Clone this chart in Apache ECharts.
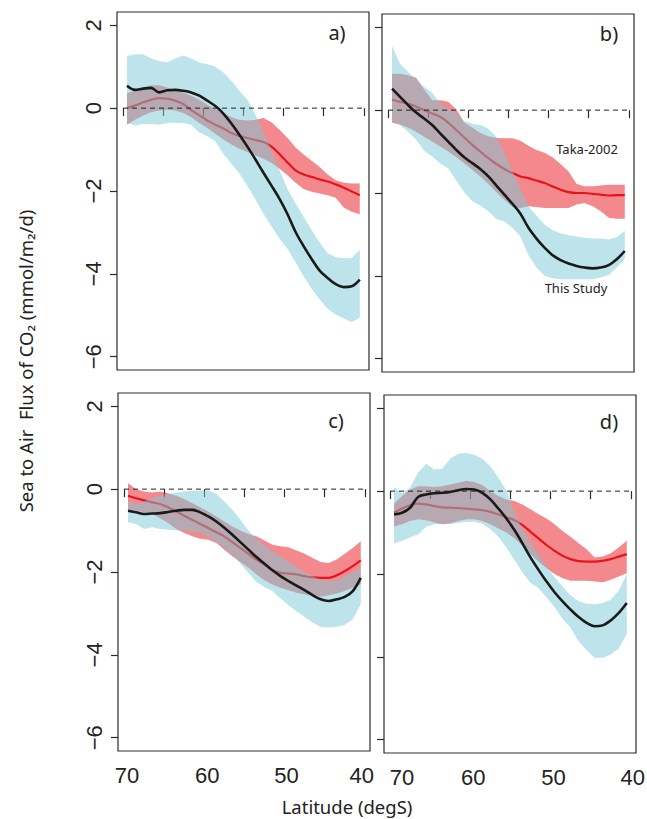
<!DOCTYPE html>
<html>
<head>
<meta charset="utf-8">
<script src="https://cdn.jsdelivr.net/npm/echarts@6.0.0/dist/echarts.min.js"></script>
<style>
html,body{margin:0;padding:0;background:#fff;}
#chart{width:647px;height:819px;}
</style>
</head>
<body>
<div id="chart"></div>
<script>
// ---------- DATA ----------
const lat = [69.5,68.5,67.5,66.5,65.5,64.5,63.5,62.5,61.5,60.5,59.5,58.5,57.5,56.5,55.5,54.5,53.5,52.5,51.5,50.5,49.5,48.5,47.5,46.5,45.5,44.5,43.5,42.5,41.5,40.5];
const xTicks = [70,65,60,55,50,45,40];
const xTickLabels = [70,60,50,40];
const yTicks = [-6,-4,-2,0,2];
const zeroLevel = 0;
const panelLetters = ['a)','b)','c)','d)'];

// Panel a
const aStudy   = [0.54,0.44,0.47,0.49,0.38,0.43,0.44,0.42,0.38,0.30,0.18,0.05,-0.13,-0.37,-0.64,-0.93,-1.24,-1.56,-1.87,-2.19,-2.56,-2.99,-3.33,-3.64,-3.92,-4.1,-4.25,-4.32,-4.3,-4.14];
const aStudyHi = [1.26,1.3,1.3,1.2,1.14,1.1,1.2,1.27,1.2,1.1,1.06,1.0,0.86,0.66,0.42,0.2,-0.16,-0.58,-1.02,-1.5,-1.96,-2.3,-2.62,-2.94,-3.24,-3.5,-3.6,-3.62,-3.62,-3.42];
const aStudyLo = [-0.35,-0.42,-0.38,-0.38,-0.4,-0.36,-0.35,-0.36,-0.4,-0.58,-0.68,-0.8,-1.1,-1.34,-1.58,-1.88,-2.2,-2.55,-2.85,-3.15,-3.4,-3.72,-4.06,-4.36,-4.62,-4.84,-4.98,-5.08,-5.16,-5.05];
const aTaka    = [0.0,0.06,0.14,0.2,0.24,0.23,0.18,0.1,-0.05,-0.17,-0.3,-0.4,-0.49,-0.6,-0.67,-0.72,-0.77,-0.82,-0.93,-1.11,-1.31,-1.5,-1.6,-1.66,-1.72,-1.77,-1.84,-1.92,-2.01,-2.1];
const aTakaHi  = [0.36,0.42,0.5,0.55,0.55,0.5,0.44,0.38,0.3,0.2,0.08,-0.02,-0.12,-0.22,-0.28,-0.3,-0.28,-0.24,-0.34,-0.52,-0.72,-0.95,-1.12,-1.27,-1.42,-1.6,-1.74,-1.8,-1.82,-1.82];
const aTakaLo  = [-0.4,-0.28,-0.18,-0.1,-0.06,-0.04,-0.06,-0.12,-0.22,-0.36,-0.48,-0.62,-0.76,-0.88,-0.98,-1.06,-1.14,-1.22,-1.32,-1.46,-1.62,-1.8,-1.95,-2.02,-2.06,-2.1,-2.16,-2.4,-2.5,-2.56];

// Panel b
const bStudy   = [0.52,0.32,0.12,-0.06,-0.2,-0.36,-0.56,-0.76,-0.96,-1.14,-1.28,-1.42,-1.6,-1.82,-2.04,-2.26,-2.5,-2.84,-3.1,-3.32,-3.5,-3.62,-3.7,-3.76,-3.8,-3.82,-3.8,-3.74,-3.6,-3.4];
const bStudyHi = [1.55,1.12,0.92,0.74,0.56,0.42,0.16,0.04,-0.07,-0.26,-0.33,-0.36,-0.45,-0.64,-1.04,-1.46,-1.9,-2.32,-2.55,-2.76,-2.9,-2.97,-3.02,-3.05,-3.08,-3.1,-3.1,-3.12,-3.06,-2.92];
const bStudyLo = [-0.25,-0.36,-0.52,-0.71,-0.98,-1.12,-1.29,-1.41,-1.7,-1.98,-2.2,-2.3,-2.44,-2.63,-2.69,-2.84,-3.05,-3.5,-3.8,-4.0,-4.06,-4.08,-4.08,-4.08,-4.08,-4.08,-4.04,-3.98,-3.8,-3.58];
const bTaka    = [0.25,0.2,0.16,0.08,0.0,-0.08,-0.16,-0.3,-0.48,-0.66,-0.84,-1.0,-1.16,-1.3,-1.42,-1.52,-1.6,-1.64,-1.7,-1.76,-1.84,-1.92,-1.98,-2.0,-2.0,-2.02,-2.04,-2.06,-2.05,-2.05];
const bTakaHi  = [0.88,0.88,0.84,0.78,0.5,0.24,0.24,0.2,0.02,-0.3,-0.42,-0.55,-0.63,-0.67,-0.68,-0.68,-0.74,-0.86,-0.96,-1.03,-1.14,-1.3,-1.48,-1.78,-1.84,-1.84,-1.82,-1.8,-1.8,-1.8];
const bTakaLo  = [-0.3,-0.35,-0.42,-0.52,-0.64,-0.76,-0.88,-1.0,-1.14,-1.28,-1.44,-1.6,-1.78,-1.98,-2.16,-2.34,-2.36,-2.32,-2.34,-2.36,-2.36,-2.36,-2.36,-2.28,-2.24,-2.32,-2.44,-2.6,-2.62,-2.62];

// Panel c
const cStudy   = [-0.52,-0.56,-0.6,-0.59,-0.58,-0.55,-0.52,-0.5,-0.5,-0.56,-0.66,-0.78,-0.93,-1.1,-1.28,-1.46,-1.64,-1.8,-1.96,-2.1,-2.22,-2.33,-2.44,-2.56,-2.66,-2.7,-2.66,-2.6,-2.46,-2.14];
const cStudyHi = [-0.3,-0.36,-0.3,-0.22,-0.16,-0.12,-0.08,-0.06,-0.04,-0.04,-0.03,-0.12,-0.3,-0.5,-0.74,-1.0,-1.2,-1.36,-1.5,-1.62,-1.76,-1.88,-2.0,-2.1,-2.18,-2.22,-2.2,-2.1,-2.0,-1.9];
const cStudyLo = [-0.8,-0.84,-0.96,-0.92,-0.96,-0.98,-1.0,-1.0,-1.02,-1.06,-1.14,-1.28,-1.42,-1.58,-1.8,-2.02,-2.24,-2.36,-2.46,-2.64,-2.8,-2.95,-3.08,-3.22,-3.33,-3.34,-3.32,-3.28,-3.14,-2.78];
const cTaka    = [-0.16,-0.22,-0.27,-0.32,-0.36,-0.44,-0.54,-0.64,-0.74,-0.84,-0.94,-1.04,-1.14,-1.28,-1.42,-1.56,-1.7,-1.82,-1.96,-2.02,-2.04,-2.06,-2.1,-2.13,-2.14,-2.14,-2.08,-1.98,-1.86,-1.72];
const cTakaHi  = [0.14,0.0,-0.06,-0.08,-0.06,-0.1,-0.16,-0.24,-0.34,-0.44,-0.54,-0.66,-0.78,-0.9,-1.0,-1.08,-1.14,-1.24,-1.34,-1.38,-1.4,-1.48,-1.56,-1.66,-1.76,-1.78,-1.7,-1.56,-1.42,-1.26];
const cTakaLo  = [-0.5,-0.52,-0.56,-0.6,-0.7,-0.82,-0.96,-1.06,-1.14,-1.2,-1.22,-1.3,-1.46,-1.62,-1.76,-1.9,-2.06,-2.2,-2.3,-2.38,-2.44,-2.5,-2.54,-2.58,-2.6,-2.56,-2.52,-2.46,-2.38,-2.3];

// Panel d
const dStudy   = [-0.56,-0.52,-0.4,-0.14,-0.08,-0.05,-0.04,-0.02,0.02,0.05,0.04,-0.04,-0.2,-0.42,-0.66,-0.94,-1.26,-1.6,-1.9,-2.18,-2.44,-2.66,-2.86,-3.04,-3.18,-3.26,-3.24,-3.12,-2.94,-2.7];
const dStudyHi = [0.1,-0.05,0.08,0.45,0.66,0.52,0.54,0.78,0.9,0.92,0.88,0.78,0.6,0.32,0.02,-0.5,-0.9,-1.24,-1.52,-1.82,-2.08,-2.3,-2.52,-2.66,-2.72,-2.73,-2.7,-2.62,-2.4,-2.0];
const dStudyLo = [-1.26,-1.2,-1.12,-1.04,-0.86,-0.8,-0.79,-0.79,-0.77,-0.74,-0.74,-0.79,-0.92,-1.1,-1.36,-1.66,-1.96,-2.22,-2.34,-2.56,-2.8,-3.08,-3.3,-3.62,-3.84,-4.02,-4.02,-3.94,-3.8,-3.45];
const dTaka    = [-0.52,-0.42,-0.34,-0.3,-0.32,-0.36,-0.39,-0.4,-0.41,-0.42,-0.44,-0.46,-0.5,-0.56,-0.63,-0.7,-0.82,-0.98,-1.14,-1.3,-1.44,-1.56,-1.64,-1.69,-1.7,-1.7,-1.68,-1.64,-1.58,-1.52];
const dTakaHi  = [-0.3,-0.12,0.04,0.12,0.12,0.1,0.12,0.16,0.2,0.25,0.22,0.15,0.0,-0.12,-0.2,-0.24,-0.32,-0.44,-0.56,-0.66,-0.8,-0.96,-1.1,-1.26,-1.4,-1.6,-1.58,-1.5,-1.36,-1.2];
const dTakaLo  = [-0.86,-0.8,-0.72,-0.68,-0.7,-0.76,-0.8,-0.78,-0.72,-0.68,-0.68,-0.72,-0.8,-0.9,-1.0,-1.14,-1.32,-1.52,-1.7,-1.86,-2.0,-2.1,-2.16,-2.16,-2.16,-2.18,-2.2,-2.14,-2.06,-1.98];

const panels = [
  {study:aStudy, studyHi:aStudyHi, studyLo:aStudyLo, taka:aTaka, takaHi:aTakaHi, takaLo:aTakaLo},
  {study:bStudy, studyHi:bStudyHi, studyLo:bStudyLo, taka:bTaka, takaHi:bTakaHi, takaLo:bTakaLo},
  {study:cStudy, studyHi:cStudyHi, studyLo:cStudyLo, taka:cTaka, takaHi:cTakaHi, takaLo:cTakaLo},
  {study:dStudy, studyHi:dStudyHi, studyLo:dStudyLo, taka:dTaka, takaHi:dTakaHi, takaLo:dTakaLo}
];

// ---------- STYLE / LAYOUT ----------
const RED = 'rgb(232,20,28)';
const RED_BAND = 'rgba(232,20,28,0.5)';
const BLUE_BAND = 'rgba(121,201,213,0.5)';
const BLACK = '#1a1a1a';
const AXIS_COL = '#2a2a2a';
const TICK_FONT = 'Liberation Sans';
const TEXT_FONT = 'Noto Sans';

const gridBoxes = [
  {left:117, top:12,  width:252, height:358},
  {left:382, top:14,  width:252, height:358},
  {left:118, top:393, width:252, height:358},
  {left:384, top:395, width:252, height:358}
];
const showXLabels = [false,false,true,true];
const showYLabels = [true,false,true,false];
// horizontal nudge (px) of each x tick label, per panel, in order of xTickLabels
const xLabelNudge = [[0,0,0,0],[0,0,0,0],[3,3,2,-3],[12,3,3,2]];

const chart = echarts.init(document.getElementById('chart'), null, {renderer:'svg'});

const grids = gridBoxes.map(b => Object.assign({
  show:true, borderColor:AXIS_COL, borderWidth:1.2, backgroundColor:'transparent',
  containLabel:false, outerBoundsMode:'none'
}, b));

function nudgeRich(panel) {
  const rich = {};
  xLabelNudge[panel].forEach((n,k) => {
    rich['n' + k] = {
      fontSize:22, fontFamily:TICK_FONT, color:'#222',
      padding: n >= 0 ? [0,0,0,2*n] : [0,-2*n,0,0]
    };
  });
  return rich;
}

const xAxes = gridBoxes.map((b,i) => ({
  gridIndex:i, type:'value', inverse:true, min:39.35, max:70.75,
  axisLine:{show:false}, splitLine:{show:false},
  axisTick:{show:true, inside:false, length:8, customValues:xTicks, lineStyle:{color:AXIS_COL, width:1.2}},
  axisLabel:{show:showXLabels[i], customValues:xTickLabels, margin:13, fontSize:22,
    fontFamily:TICK_FONT, color:'#222',
    formatter: v => '{n' + xTickLabels.indexOf(v) + '|' + v + '}',
    rich: nudgeRich(i)}
}));

const yAxes = gridBoxes.map((b,i) => ({
  gridIndex:i, type:'value', min:-6.32, max:2.32,
  axisLine:{show:false}, splitLine:{show:false},
  axisTick:{show:true, inside:false, length:7, customValues:yTicks, lineStyle:{color:AXIS_COL, width:1.2}},
  axisLabel:{show:showYLabels[i], customValues:yTicks, rotate:90, margin:13, fontSize:22,
    fontFamily:TICK_FONT, color:'#222',
    formatter: v => String(v).replace('-', '\u2212')}
}));

function bandSeries(gi, lower, upper, color, z) {
  return {
    type:'custom', xAxisIndex:gi, yAxisIndex:gi, z:z, silent:true,
    data: lat.map((x,k) => [x, lower[k], upper[k]]),
    encode:{x:0, y:[1,2]},
    renderItem: function(params, api) {
      if (params.dataIndex !== 0) return null;
      const pts = [];
      for (let k = 0; k < lat.length; k++) pts.push(api.coord([lat[k], upper[k]]));
      for (let k = lat.length - 1; k >= 0; k--) pts.push(api.coord([lat[k], lower[k]]));
      return {type:'polygon', shape:{points:pts}, style:{fill:color, stroke:null}};
    }
  };
}
function lineSeries(gi, vals, color, width, z) {
  return {
    type:'line', xAxisIndex:gi, yAxisIndex:gi, z:z, silent:true,
    data: lat.map((x,k) => [x, vals[k]]),
    symbol:'none', smooth:0.35,
    lineStyle:{color:color, width:width}
  };
}

const series = [];
panels.forEach((p,i) => {
  series.push(bandSeries(i, p.takaLo, p.takaHi, RED_BAND, 1));
  series.push(lineSeries(i, p.taka, RED, 2.2, 2));
  series.push(bandSeries(i, p.studyLo, p.studyHi, BLUE_BAND, 3));
  series.push(lineSeries(i, p.study, BLACK, 2.6, 4));
  series.push({
    type:'line', xAxisIndex:i, yAxisIndex:i, z:5, silent:true, symbol:'none',
    data:[[xTicks[0], zeroLevel], [xTicks[xTicks.length-1], zeroLevel]],
    lineStyle:{color:'#222', width:1, type:[5,4]}
  });
});

function txt(x, y, text, size, rot) {
  return {
    type:'text', x:x, y:y, rotation:rot || 0, z:10, silent:true,
    style:{text:text, fontSize:size, fontFamily:TEXT_FONT, fill:'#222',
      align:'center', verticalAlign:'middle', textAlign:'center', textVerticalAlign:'middle'}
  };
}
const letterPos = [[337,32],[609,33],[336,420],[609,421]];
const graphics = panelLetters.map((t,i) => txt(letterPos[i][0], letterPos[i][1], t, 20));
graphics.push(txt(587, 149, 'Taka-2002', 13));
graphics.push(txt(576, 288, 'This Study', 13));
graphics.push(txt(25, 361, 'Sea to Air  Flux of CO\u2082 (mmol/m\u2082/d)', 18.5, Math.PI/2));
graphics.push(txt(347, 806, 'Latitude (degS)', 18.5));

chart.setOption({
  animation:false,
  backgroundColor:'#fff',
  grid:grids, xAxis:xAxes, yAxis:yAxes,
  series:series,
  graphic:graphics
});
</script>
</body>
</html>
